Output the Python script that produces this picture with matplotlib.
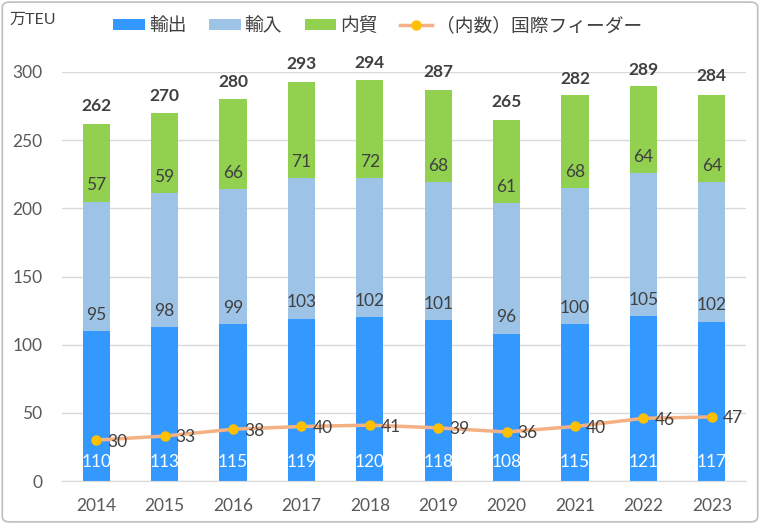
import numpy as np
import matplotlib.pyplot as plt
from matplotlib.patches import FancyBboxPatch

plt.rcParams['font.family'] = ['Lato', 'Noto Sans CJK JP', 'DejaVu Sans']

# data ############
years = ['2014', '2015', '2016', '2017', '2018', '2019', '2020', '2021', '2022', '2023']
export = [110, 113, 115, 119, 120, 118, 108, 115, 121, 117]
imports = [95, 98, 99, 103, 102, 101, 96, 100, 105, 102]
domestic = [57, 59, 66, 71, 72, 68, 61, 68, 64, 64]
totals = [262, 270, 280, 293, 294, 287, 265, 282, 289, 284]
feeder = [30, 33, 38, 40, 41, 39, 36, 40, 46, 47]
###################

c_exp = '#3399FF'
c_imp = '#9DC3E6'
c_dom = '#92D050'
c_line = '#F4B183'
c_mark = '#FFC000'
txt = '#404040'

fig = plt.figure(figsize=(7.6, 5.24), dpi=100)
ax = fig.add_axes([0.0816, 0.082, 0.9, 0.7806])

x = np.arange(len(years))
w = 0.4
exp_a = np.array(export)
imp_a = np.array(imports)
dom_a = np.array(domestic)

b1 = ax.bar(x, exp_a, w, color=c_exp, label='輸出', zorder=2)
b2 = ax.bar(x, imp_a, w, bottom=exp_a, color=c_imp, label='輸入', zorder=2)
b3 = ax.bar(x, dom_a, w, bottom=exp_a + imp_a, color=c_dom, label='内貿', zorder=2)
ln, = ax.plot(x, feeder, color=c_line, lw=2.5, marker='o', markersize=6.5,
              markerfacecolor=c_mark, markeredgecolor=c_mark, zorder=4,
              label='（内数）国際フィーダー')

fs = 12.5
for i in range(len(years)):
    ax.text(x[i], 14, str(export[i]), ha='center', va='center', color='white', fontsize=fs, zorder=3)
    ax.text(x[i], export[i] + 12, str(imports[i]), ha='center', va='center', color=txt, fontsize=fs, zorder=3)
    ax.text(x[i], export[i] + imports[i] + 12, str(domestic[i]), ha='center', va='center', color=txt, fontsize=fs, zorder=3)
    ax.annotate(str(totals[i]), (x[i], totals[i]), xytext=(0, 12.5), textcoords='offset points',
                ha='center', va='center', color=txt, fontsize=fs, fontweight='bold')
    ax.annotate(str(feeder[i]), (x[i], feeder[i]), xytext=(8, -1), textcoords='offset points',
                ha='left', va='center', color=txt, fontsize=fs, zorder=5)

ax.set_xlim(-0.5, len(years) - 0.5)
ax.set_ylim(0, 300)
ax.set_yticks(range(0, 301, 50))
ax.set_xticks(x)
ax.set_xticklabels(years)
ax.tick_params(length=0, labelsize=12.5, labelcolor='#595959')
ax.tick_params(axis='x', pad=12)
ax.tick_params(axis='y', pad=14)
ax.grid(axis='y', color='#D9D9D9', lw=1, zorder=0)
for s in ['top', 'right', 'left']:
    ax.spines[s].set_visible(False)
ax.spines['bottom'].set_color('#D9D9D9')
ax.set_axisbelow(True)

fig.text(0.012, 0.962, '万TEU', fontsize=11.5, color=txt, va='center', ha='left')

fig.legend(handles=[b1, b2, b3, ln], loc='center', bbox_to_anchor=(0.497, 0.952), ncol=4,
           frameon=False, fontsize=13.5, handlelength=1.7, handleheight=0.55,
           columnspacing=1.2, handletextpad=0.2, labelcolor=txt)

border = FancyBboxPatch((0.003, 0.004), 0.994, 0.992, boxstyle='round,pad=0,rounding_size=0.01',
                        transform=fig.transFigure, fill=False, edgecolor='#BFBFBF', lw=1.2)
fig.patches.append(border)

fig.savefig('out.png', dpi=100)
